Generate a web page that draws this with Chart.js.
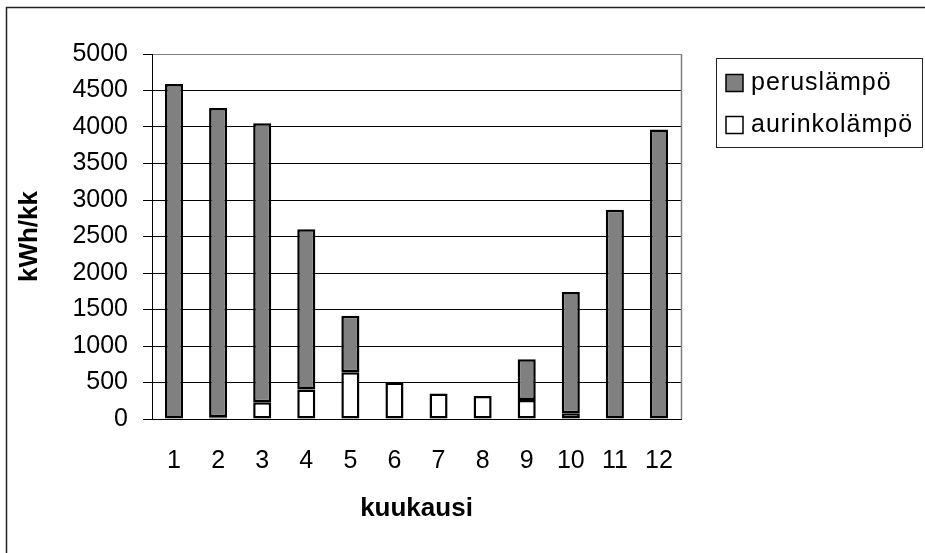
<!DOCTYPE html>
<html>
<head>
<meta charset="utf-8">
<script src="https://cdn.jsdelivr.net/npm/chart.js@4.4.1/dist/chart.umd.min.js"></script>
<style>
  body { margin: 0; background: #fff; }
  canvas { display: block; }
</style>
</head>
<body>
<canvas id="kaavio" width="925" height="553"></canvas>
<script>
// kuukausittainen lämmöntarve, kWh/kk (luettu kuvasta)
const kuukaudet = ['1', '2', '3', '4', '5', '6', '7', '8', '9', '10', '11', '12']
const peruslampo = [4590, 4235, 3820, 2195, 775, null, null, null, 560, 1660, 2865, 3965]
const aurinkolampo = [null, 25, 230, 405, 640, 500, 350, 315, 260, 80, null, null]
const yMax = 5000
const yStep = 500

const fontti = '"Liberation Sans", Arial, sans-serif'
Chart.defaults.font.family = fontti
Chart.defaults.color = '#000'

// ulkokehys ja piirtoalueen harmaa reuna
const kehys = {
    id: 'kehys',
    beforeDraw(chart) {
        const ctx = chart.ctx
        ctx.save()
        ctx.fillStyle = '#fff'
        ctx.fillRect(0, 0, chart.width, chart.height)
        ctx.strokeStyle = '#222'
        ctx.lineWidth = 1.5
        ctx.beginPath()
        ctx.moveTo(6.5, chart.height)
        ctx.lineTo(6.5, 7.5)
        ctx.lineTo(chart.width, 7.5)
        ctx.stroke()
        ctx.restore()
    },
    beforeDatasetsDraw(chart) {
        const a = chart.chartArea
        const ctx = chart.ctx
        ctx.save()
        ctx.strokeStyle = '#808080'
        ctx.lineWidth = 1.5
        ctx.beginPath()
        ctx.moveTo(a.right + 0.5, a.top)
        ctx.lineTo(a.right + 0.5, a.bottom)
        ctx.stroke()
        ctx.restore()
    }
}

// selite laatikossa oikealla ylhäällä
const selite = {
    id: 'selite',
    afterDraw(chart) {
        const ctx = chart.ctx
        const a = chart.chartArea
        const x = a.right + 35
        const y = a.top + 4
        ctx.save()
        ctx.strokeStyle = '#222'
        ctx.lineWidth = 1
        ctx.strokeRect(x + 0.5, y + 0.5, 206, 89)
        ctx.font = '25px ' + fontti
        ctx.letterSpacing = '1px'
        ctx.textBaseline = 'middle'
        const sarjat = chart.data.datasets.slice().reverse()
        sarjat.forEach((ds, i) => {
            const cy = y + 25 + i * 42
            ctx.fillStyle = ds.backgroundColor
            ctx.fillRect(x + 10, cy - 8.5, 17, 17)
            ctx.strokeStyle = '#000'
            ctx.lineWidth = 1.5
            ctx.strokeRect(x + 10, cy - 8.5, 17, 17)
            ctx.fillStyle = '#000'
            ctx.fillText(ds.label, x + 35, cy)
        })
        ctx.restore()
    }
}

new Chart(document.querySelector('#kaavio').getContext('2d'), {
    type: 'bar',
    data: {
        labels: kuukaudet,
        datasets: [
            {
                label: 'aurinkolämpö',
                data: aurinkolampo,
                backgroundColor: '#ffffff',
                borderColor: '#000',
                borderWidth: 2.5,
                borderSkipped: false
            },
            {
                label: 'peruslämpö',
                data: peruslampo,
                backgroundColor: '#808080',
                borderColor: '#000',
                borderWidth: 2.5,
                borderSkipped: false
            }
        ]
    },
    options: {
        responsive: false,
        animation: false,
        layout: { padding: { left: 0, top: 54, right: 244, bottom: 0 } },
        datasets: { bar: { barPercentage: 0.41, categoryPercentage: 1 } },
        plugins: {
            legend: { display: false },
            tooltip: { enabled: false }
        },
        scales: {
            x: {
                stacked: true,
                grid: { display: false },
                border: { color: '#000', width: 1 },
                ticks: { padding: 19, font: { size: 25 } },
                title: {
                    display: true,
                    text: 'kuukausi',
                    font: { size: 26, weight: 'bold' },
                    padding: { top: 0, bottom: 29 }
                },
                afterFit(scale) { scale.height = 134 }
            },
            y: {
                stacked: true,
                min: 0,
                max: yMax,
                grid: {
                    color: c => c.tick && c.tick.value === yMax ? '#808080' : '#000',
                    tickColor: '#000',
                    tickLength: 9,
                    lineWidth: 1
                },
                border: { color: '#000', width: 1 },
                ticks: {
                    stepSize: yStep,
                    padding: 15,
                    font: { size: 25 },
                    callback: v => String(v)
                },
                title: {
                    display: true,
                    text: 'kWh/kk',
                    font: { size: 26, weight: 'bold' },
                    padding: { top: 14, bottom: 0 }
                },
                afterFit(scale) { scale.width = 152 }
            }
        }
    },
    plugins: [kehys, selite]
})
</script>
</body>
</html>
